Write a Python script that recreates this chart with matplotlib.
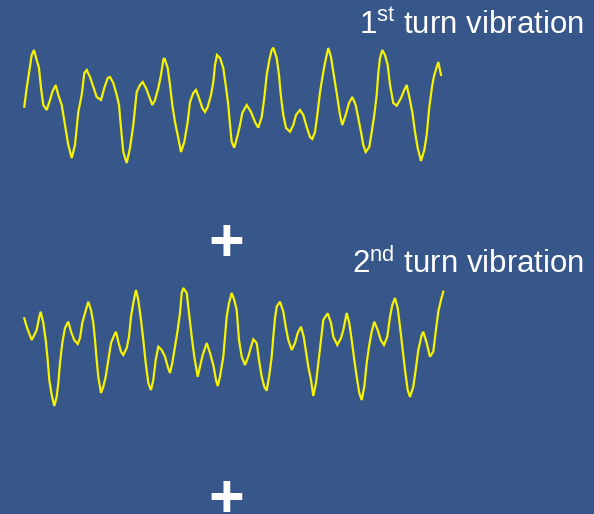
import numpy as np
import matplotlib.pyplot as plt

# ======================================================
# DATOS
# ======================================================

t1 = [24.3, 26.7, 29, 31.7, 34, 36.7, 39, 41, 43.3, 46.7, 50, 52.3, 55.7, 58.3, 61.7,
      65, 68.3, 71.7, 75, 78.3, 81.7, 84.3, 86.7, 90, 93.3, 96.7, 101, 104.3, 107.7,
      110, 113.3, 116.7, 119, 121, 123.3, 126.7, 130, 133.3, 136.7, 140, 142.7, 146,
      149.3, 152.3, 155, 158.3, 161, 163.3, 164.3, 167.7, 170, 172.3, 175, 178.3, 181,
      184.3, 187.7, 190, 193.3, 196, 199, 202.3, 205, 207.7, 211, 213.3, 215, 217, 220,
      223.3, 225.7, 228.3, 230, 231.7, 234.3, 237.7, 240, 242.3, 246.7, 251, 255,
      258.3, 261.7, 264.3, 266.7, 269.3, 271.7, 273.3, 276.7, 279, 281, 283.3, 286,
      290, 293.3, 296, 300, 303.3, 306.7, 310, 312.3, 315, 317.7, 320, 323.3, 326,
      328.3, 331, 333.3, 336.7, 340, 342.3, 345.7, 349, 352.3, 355.7, 358.3, 361,
      363.3, 365.7, 369.3, 371.7, 374.3, 376.7, 378.3, 380, 382.3, 385, 387.7, 390,
      393.3, 396.7, 401, 404.3, 406.7, 409.3, 412.3, 415, 417.7, 421, 424.3, 426.7,
      429.3, 432.3, 434.3, 436.7, 438.3, 441]
y1 = [106.7, 88, 73, 55, 50, 60, 68, 88, 105, 110, 100, 92, 85, 95, 105,
      125, 145, 158, 145, 112, 95, 73, 70, 77, 87, 97, 100, 88, 78,
      77, 83, 95, 105, 128, 152, 163, 148, 125, 92, 85, 82, 88,
      97, 105, 100, 88, 75, 60, 58, 68, 85, 105, 122, 138, 152,
      142, 122, 102, 93, 90, 98, 108, 112, 107, 95, 82, 65, 55, 58,
      68, 85, 105, 125, 142, 147.7, 135, 125, 113, 105, 112, 122,
      127.7, 117, 98, 75, 60, 50, 47.7, 58, 75, 97, 115, 128,
      131.7, 125, 115, 110, 115, 127, 137, 139, 132, 112, 92, 72, 58,
      48, 57, 72, 93, 115, 125, 115, 103, 97, 105, 118, 132,
      145, 152, 147, 132, 115, 95, 73, 58, 50, 55, 65, 85,
      103, 105.7, 98, 90, 85, 97, 112, 132, 148, 161, 150, 135,
      107, 85, 75, 67, 62, 75]

t2 = [24.3, 26.7, 29, 31.7, 34.3, 36.7, 39, 40.7, 43.3, 45.7, 47.7, 49.3, 51.7, 54.3,
      56.7, 58.3, 60, 62.3, 65, 68.3, 71, 74.3, 77.7, 80, 82.3, 85, 88.3, 91, 93.3,
      95, 96.7, 98.3, 101, 103.3, 105.7, 108.3, 111, 114.3, 116, 118.3, 121, 123.3,
      126.7, 129, 131, 133.3, 136, 138.3, 141, 143.3, 145.7, 148.3, 151, 153.3, 155.7,
      158.3, 161.7, 165, 167.7, 170, 172.3, 175, 177.7, 180, 181.7, 183.3, 186.7, 189,
      191.7, 194.3, 197.7, 200, 202.7, 206.7, 210, 213.3, 216, 217.7, 220, 223.3,
      226.7, 229, 231.7, 234.3, 236.7, 239, 241.7, 245, 248.3, 251, 253.3, 256.7, 259,
      261.7, 264.3, 266.7, 269.3, 271.7, 273.3, 275, 276.7, 280, 283.3, 285.7, 288.3,
      291.7, 295, 297.7, 301, 303.7, 305.7, 308.3, 311, 313.3, 316, 318.3, 321, 323.3,
      327.7, 331, 333.3, 337.3, 341, 343.3, 346.7, 349.3, 351.7, 354.3, 356.7, 359.3,
      361.7, 364.3, 366.7, 369, 371.7, 374.3, 377.7, 380.7, 384, 387.3, 390, 392.3,
      395, 397.7, 400, 402.3, 405, 407.7, 410, 413.3, 415.7, 418.3, 421.7, 423.3,
      426.7, 430, 433.3, 435.7, 438.3, 441, 443.3]
y2 = [318.3, 326.7, 333, 340, 335, 330, 318, 311.7, 323, 340, 360, 380, 395, 406,
      396.7, 383, 363, 343, 328, 321.7, 331.7, 340, 344, 338, 323, 313, 301.7, 310, 323,
      340, 360, 376.7, 393, 386.7, 376.7, 360, 343, 335, 331.7, 341.7, 351.7, 355,
      348, 336.7, 316.7, 303, 290, 300, 320, 340, 363, 383, 390, 380, 360,
      346.7, 350, 356.7, 366.7, 373, 363, 346.7, 330, 313, 293, 288, 293, 313,
      336.7, 356.7, 376.7, 366.7, 355, 343, 353, 365, 380, 386, 376.7, 356.7,
      316.7, 303, 293, 300, 310, 340, 356.7, 365, 356.7, 346.7, 339.3, 343, 360,
      376.7, 386.7, 390.7, 375, 356.7, 336.7, 318.3, 306.7, 301.7, 311.7, 326.7, 340,
      350, 343, 333, 326.7, 336.7, 350, 366.7, 380, 396, 383, 363, 340, 320,
      313.3, 323, 336.7, 345, 338, 330, 313, 323, 340, 360, 376.7, 393,
      400, 386.7, 363, 346.7, 331.7, 321.7, 330, 340, 345, 336.7, 316.7, 305,
      298, 308, 326.7, 346.7, 370, 390, 397, 386.7, 370, 350, 335, 331.7,
      343, 356.7, 351.7, 331.7, 311.7, 300, 291.7]

etiquetas = ["1$^{\\mathrm{st}}$ turn vibration", "2$^{\\mathrm{nd}}$ turn vibration"]

# ======================================================
# FIGURA
# ======================================================

FONDO = "#37578a"
AMARILLO = "#f6f200"

plt.rcParams["font.family"] = "Liberation Sans"
plt.rcParams["mathtext.fontset"] = "custom"
plt.rcParams["mathtext.rm"] = "Liberation Sans"

fig = plt.figure(figsize=(5.94, 5.14), dpi=100, facecolor=FONDO)
ax = fig.add_axes([0, 0, 1, 1])
ax.set_facecolor(FONDO)
ax.set_xlim(0, 594)
ax.set_ylim(514, 0)
ax.axis("off")

ax.plot(t1, y1, color=AMARILLO, linewidth=1.6, solid_joinstyle="miter")
ax.plot(t2, y2, color=AMARILLO, linewidth=1.6, solid_joinstyle="miter")

ax.text(584, 34, etiquetas[0], color="white", fontsize=22.5, ha="right", va="baseline")
ax.text(584, 273, etiquetas[1], color="white", fontsize=22.5, ha="right", va="baseline")

ax.text(226, 246, "+", color="white", fontsize=44, fontweight="bold",
        ha="center", va="center")
ax.text(226, 502, "+", color="white", fontsize=44, fontweight="bold",
        ha="center", va="center")

plt.savefig("out.png", dpi=100, facecolor=FONDO)
